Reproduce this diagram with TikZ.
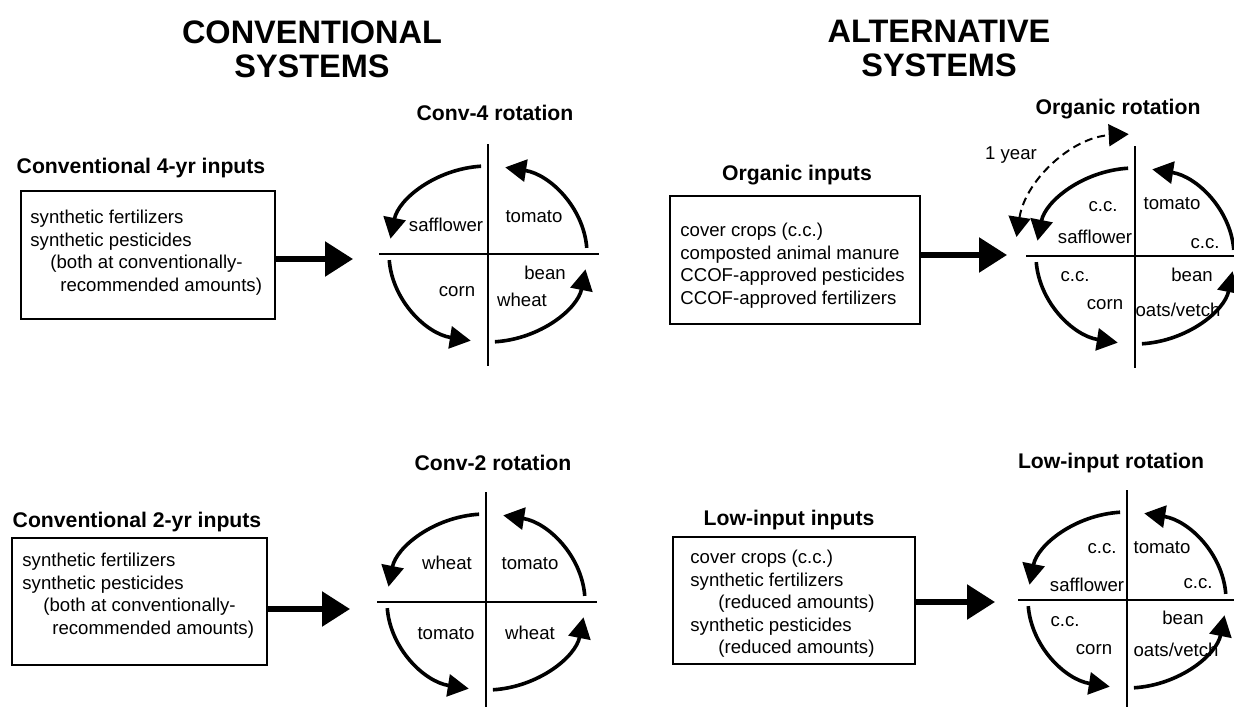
\documentclass[tikz,border=0pt]{standalone}
\usepackage{fontspec}
\setmainfont{Liberation Sans}
\usetikzlibrary{arrows.meta, positioning, calc}

\begin{document}
\begin{tikzpicture}[x=0.5pt, y=-0.5pt,
    sysheading/.style={font=\fontsize{16.25pt}{17pt}\selectfont\bfseries, align=center, inner sep=0pt, anchor=north},
    subhead/.style={font=\fontsize{10.6pt}{12pt}\selectfont\bfseries, inner sep=0pt, anchor=base},
    croplbl/.style={font=\fontsize{9.3pt}{11pt}\selectfont, inner sep=0pt, anchor=base},
    inbox/.style={draw, line width=1pt, inner sep=0pt},
    intext/.style={font=\fontsize{9.3pt}{11.2pt}\selectfont, align=left, inner sep=0pt, anchor=north west},
    feedarrow/.style={line width=2.8pt, -{Triangle[length=14pt, width=17pt]}},
    rotarrow/.style={line width=1.8pt, -{Triangle[length=10.5pt, width=11pt]}},
    yearline/.style={line width=1pt, dash pattern=on 4pt off 2.5pt, {Triangle[length=10pt, width=11pt]}-{Triangle[length=10pt, width=11pt]}},
    crossline/.style={line width=1.1pt}]

    \useasboundingbox (0,0) rectangle (1234,706);

    % column headings
    \node[sysheading] (conv) at (312,20) {CONVENTIONAL\\SYSTEMS};
    \node[sysheading] (alt) at (939,20) {ALTERNATIVE\\SYSTEMS};

    % input boxes
    \node[subhead] (h4) at (141,173) {Conventional 4-yr inputs};
    \node[inbox, minimum width=127pt, minimum height=64pt] (box4) at (148,255) {};
    \node[intext] (txt4) at (30,210) {synthetic fertilizers\\synthetic pesticides\\\hspace*{10pt}(both at conventionally-\\\hspace*{15pt}recommended amounts)};

    \node[subhead] (h2) at (137,527) {Conventional 2-yr inputs};
    \node[inbox, minimum width=127.5pt, minimum height=63.5pt] (box2) at (139.5,601.5) {};
    \node[intext] (txt2) at (22,553) {synthetic fertilizers\\synthetic pesticides\\\hspace*{10.5pt}(both at conventionally-\\\hspace*{15pt}recommended amounts)};

    \node[subhead] (horg) at (797,180) {Organic inputs};
    \node[inbox, minimum width=125pt, minimum height=64pt] (boxorg) at (795,260) {};
    \node[intext] (txtorg) at (680,223) {cover crops (c.c.)\\composted animal manure\\CCOF-approved pesticides\\CCOF-approved fertilizers};

    \node[subhead] (hlow) at (789,525) {Low-input inputs};
    \node[inbox, minimum width=121pt, minimum height=63.5pt] (boxlow) at (794,600.5) {};
    \node[intext] (txtlow) at (690,550) {cover crops (c.c.)\\synthetic fertilizers\\\hspace*{14pt}(reduced amounts)\\synthetic pesticides\\\hspace*{14pt}(reduced amounts)};

    % feed arrows
    \coordinate (in4) at (353,259);
    \coordinate (in2) at (350,609);
    \coordinate (inorg) at (1007,255);
    \coordinate (inlow) at (995,602);
    \draw[feedarrow] (box4.east |- in4) -- (in4);
    \draw[feedarrow] (box2.east |- in2) -- (in2);
    \draw[feedarrow] (boxorg.east |- inorg) -- (inorg);
    \draw[feedarrow] (boxlow.east |- inlow) -- (inlow);

    % rotation wheels
    \coordinate (rot4) at (488,254);
    \coordinate (rotorg) at (1135,256);
    \coordinate (rot2) at (486,602);
    \coordinate (rotlow) at (1127,600);
    \foreach \c in {rot4,rotorg,rot2,rotlow}{
        \draw[crossline] ($(\c)+(0,-110)$) -- ($(\c)+(0,112)$);
        \draw[crossline] ($(\c)+(-109,0)$) -- ($(\c)+(111,0)$);
        \foreach \a in {0,90,180,270}
            \draw[rotarrow] ($(\c)+(-\a-4:99 and 88)$) arc[start angle=-\a-4, end angle=-\a-80, x radius=99, y radius=88];
    }
    \draw[yearline] ($(rotorg)+(-171:120 and 122)$) arc[start angle=-171, end angle=-93, x radius=120, y radius=122];
    \node[croplbl] (year) at (1011,159) {1 year};

    % rotation titles
    \node[subhead] (t4) at (495,120.5) {Conv-4 rotation};
    \node[subhead] (torg) at (1118,114) {Organic rotation};
    \node[subhead] (t2) at (493,470.5) {Conv-2 rotation};
    \node[subhead] (tlow) at (1111,468.5) {Low-input rotation};

    % crops, Conv-4
    \node[croplbl] (c4saf) at (446,231) {safflower};
    \node[croplbl] (c4tom) at (534,222) {tomato};
    \node[croplbl] (c4bean) at (545,279) {bean};
    \node[croplbl] (c4wht) at (522,306) {wheat};
    \node[croplbl] (c4corn) at (457,296) {corn};

    % crops, organic
    \node[croplbl] (corgcc1) at (1103,211) {c.c.};
    \node[croplbl] (corgsaf) at (1095,243) {safflower};
    \node[croplbl] (corgtom) at (1172,209) {tomato};
    \node[croplbl] (corgcc2) at (1205,248) {c.c.};
    \node[croplbl] (corgcc3) at (1075,281) {c.c.};
    \node[croplbl] (corgbean) at (1192,281) {bean};
    \node[croplbl] (corgcorn) at (1105,309) {corn};
    \node[croplbl] (corgoat) at (1178,316) {oats/vetch};

    % crops, Conv-2
    \node[croplbl] (c2wht1) at (447,569) {wheat};
    \node[croplbl] (c2tom1) at (530,569) {tomato};
    \node[croplbl] (c2tom2) at (446,639) {tomato};
    \node[croplbl] (c2wht2) at (530,639) {wheat};

    % crops, low-input
    \node[croplbl] (clowcc1) at (1102,553) {c.c.};
    \node[croplbl] (clowtom) at (1162,553) {tomato};
    \node[croplbl] (clowsaf) at (1087,591) {safflower};
    \node[croplbl] (clowcc2) at (1198,588) {c.c.};
    \node[croplbl] (clowcc3) at (1065,626) {c.c.};
    \node[croplbl] (clowbean) at (1183,624) {bean};
    \node[croplbl] (clowcorn) at (1094,654) {corn};
    \node[croplbl] (clowoat) at (1176,656) {oats/vetch};
\end{tikzpicture}
\end{document}
